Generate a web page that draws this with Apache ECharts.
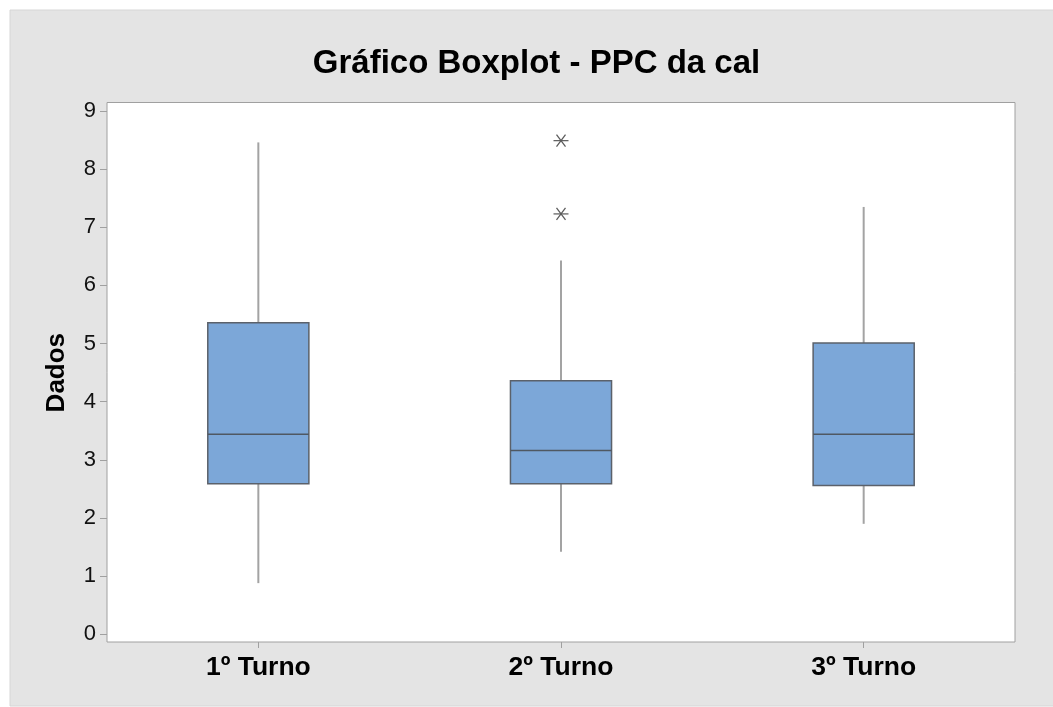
<!DOCTYPE html>
<html>
<head>
<meta charset="utf-8">
<script src="https://cdn.jsdelivr.net/npm/echarts@6/dist/echarts.min.js"></script>
<style>
html,body{margin:0;padding:0;background:#fff;}
#c{width:1053px;height:707px;}
</style>
</head>
<body>
<div id="c"></div>
<script>
var categories = ['1º Turno', '2º Turno', '3º Turno'];
var whiskerLow = [0.88, 1.42, 1.90];
var q1 = [2.59, 2.59, 2.56];
var median = [3.44, 3.16, 3.44];
var q3 = [5.36, 4.36, 5.01];
var whiskerHigh = [8.46, 6.43, 7.35];
var outlierCat = [1, 1];
var outlierVal = [8.49, 7.23];
var yTicks = [0, 1, 2, 3, 4, 5, 6, 7, 8, 9];

var boxData = categories.map(function (c, i) {
  return [i, whiskerLow[i], q1[i], median[i], q3[i], whiskerHigh[i]];
});
var outData = outlierCat.map(function (c, i) { return [c, outlierVal[i]]; });

var chart = echarts.init(document.getElementById('c'), null, {renderer: 'canvas'});
var font = '"Liberation Sans", Arial, sans-serif';

function renderBox(params, api) {
  var x = api.value(0);
  var pLow = api.coord([x, api.value(1)]);
  var pQ1 = api.coord([x, api.value(2)]);
  var pMed = api.coord([x, api.value(3)]);
  var pQ3 = api.coord([x, api.value(4)]);
  var pHigh = api.coord([x, api.value(5)]);
  var bw = api.size([1, 0])[0] * 0.334;
  var cx = pMed[0];
  var wStyle = {stroke: '#a3a3a3', lineWidth: 2};
  return {
    type: 'group',
    children: [
      {type: 'line', shape: {x1: cx, y1: pHigh[1], x2: cx, y2: pQ3[1]}, style: wStyle},
      {type: 'line', shape: {x1: cx, y1: pQ1[1], x2: cx, y2: pLow[1]}, style: wStyle},
      {type: 'rect', shape: {x: cx - bw / 2, y: pQ3[1], width: bw, height: pQ1[1] - pQ3[1]},
        style: {fill: '#7ca7d8', stroke: '#5b616a', lineWidth: 1.5}},
      {type: 'line', shape: {x1: cx - bw / 2, y1: pMed[1], x2: cx + bw / 2, y2: pMed[1]},
        style: {stroke: '#4f5862', lineWidth: 1.5}}
    ]
  };
}

function renderStar(params, api) {
  var p = api.coord([api.value(0), api.value(1)]);
  var s = {stroke: '#5a5a5a', lineWidth: 1.2};
  return {
    type: 'group',
    children: [
      {type: 'line', shape: {x1: p[0] - 7.5, y1: p[1], x2: p[0] + 7.5, y2: p[1]}, style: s},
      {type: 'line', shape: {x1: p[0] - 4.5, y1: p[1] - 6, x2: p[0] + 4.5, y2: p[1] + 6}, style: s},
      {type: 'line', shape: {x1: p[0] + 4.5, y1: p[1] - 6, x2: p[0] - 4.5, y2: p[1] + 6}, style: s}
    ]
  };
}

chart.setOption({
  backgroundColor: '#ffffff',
  animation: false,
  graphic: {
    elements: [{
      type: 'rect', z: -100,
      shape: {x: 10, y: 10, width: 1050, height: 696},
      style: {fill: '#e4e4e4', stroke: '#d6d6d6', lineWidth: 1}
    }]
  },
  title: {
    text: 'Gráfico Boxplot - PPC da cal',
    left: 536.5, top: 47, textAlign: 'center', padding: 0,
    textStyle: {fontFamily: font, fontSize: 33, fontWeight: 'bold', color: '#000'}
  },
  grid: [
    {left: 107, top: 102.5, right: 38, bottom: 65, show: true,
      backgroundColor: '#ffffff', borderColor: '#a0a0a0', borderWidth: 1},
    {left: 107, top: 111, right: 38, bottom: 72.7, show: false}
  ],
  xAxis: [
    {gridIndex: 0, type: 'category', data: categories, boundaryGap: true, position: 'bottom',
      axisLine: {show: false},
      axisTick: {show: true, inside: false, alignWithLabel: true, length: 6, lineStyle: {color: '#a0a0a0', width: 1}},
      axisLabel: {margin: 12, fontFamily: font, fontSize: 26.5, fontWeight: 'bold', color: '#000'},
      splitLine: {show: false}},
    {gridIndex: 1, type: 'category', data: categories, boundaryGap: true, show: false}
  ],
  yAxis: [
    {gridIndex: 0, type: 'value', show: false},
    {gridIndex: 1, type: 'value', min: yTicks[0], max: yTicks[yTicks.length - 1], interval: 1,
      name: 'Dados', nameLocation: 'middle', nameRotate: 90, nameGap: 37,
      nameTextStyle: {fontFamily: font, fontSize: 26, fontWeight: 'bold', color: '#000'},
      axisLine: {show: false},
      axisTick: {show: true, inside: false, length: 7, lineStyle: {color: '#a0a0a0', width: 1}},
      axisLabel: {margin: 11, fontFamily: font, fontSize: 22, color: '#111'},
      splitLine: {show: false}}
  ],
  series: [
    {type: 'custom', xAxisIndex: 1, yAxisIndex: 1, renderItem: renderBox, data: boxData,
      encode: {x: 0, y: [1, 2, 3, 4, 5]}, clip: false},
    {type: 'custom', xAxisIndex: 1, yAxisIndex: 1, renderItem: renderStar, data: outData,
      encode: {x: 0, y: 1}}
  ]
});
</script>
</body>
</html>
